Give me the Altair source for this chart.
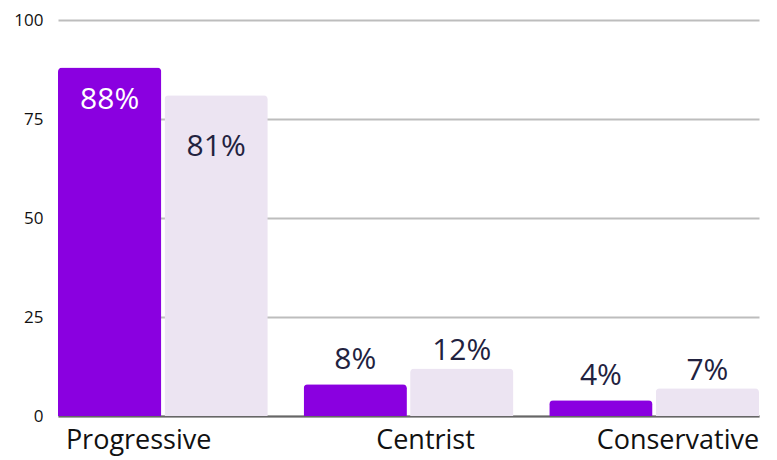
import altair as alt
import pandas as pd

categories = ["Progressive", "Centrist", "Conservative"]
series_names = ["A", "B"]
values_a = [88, 8, 4]
values_b = [81, 12, 7]

rows = []
for c, a, b in zip(categories, values_a, values_b):
    rows.append({"category": c, "series": series_names[0], "value": a})
    rows.append({"category": c, "series": series_names[1], "value": b})
df = pd.DataFrame(rows)
df["label"] = df["value"].astype(str) + "%"

FONT = "Open Sans"
PURPLE = "#8a00e0"
LIGHT = "#ece4f2"
DARK = "#22223f"

x_enc = alt.X(
    "category:N",
    sort=categories,
    scale=alt.Scale(paddingInner=0.146, paddingOuter=0.0),
    axis=alt.Axis(
        title=None,
        labelAngle=0,
        labelFont=FONT,
        labelFontSize=27,
        labelColor="#111111",
        labelPadding=11,
        ticks=False,
        domainColor="#666666",
        domainWidth=2,
        labelAlign={
            "condition": [
                {"test": "datum.value === 'Progressive'", "value": "left"},
                {"test": "datum.value === 'Conservative'", "value": "right"},
            ],
            "value": "center",
        },
        labelOffset={
            "condition": [
                {"test": "datum.value === 'Progressive'", "value": -97},
                {"test": "datum.value === 'Conservative'", "value": 105},
            ],
            "value": 17,
        },
    ),
)
xoff = alt.XOffset("series:N", sort=series_names, scale=alt.Scale(paddingInner=0.03))
y_enc = alt.Y(
    "value:Q",
    scale=alt.Scale(domain=[0, 100]),
    axis=alt.Axis(
        title=None,
        values=[0, 25, 50, 75, 100],
        labelFont=FONT,
        labelFontSize=17,
        labelColor="#111111",
        labelPadding=15,
        ticks=False,
        domain=False,
        gridColor="#bdbdbd",
        gridWidth=2,
    ),
)

base = alt.Chart(df)

bars = base.mark_bar(cornerRadiusTopLeft=4, cornerRadiusTopRight=4).encode(
    x=x_enc,
    xOffset=xoff,
    y=y_enc,
    color=alt.Color(
        "series:N",
        sort=series_names,
        scale=alt.Scale(domain=series_names, range=[PURPLE, LIGHT]),
        legend=None,
    ),
)

def text_layer(series, inside, dy, color):
    cond = "datum.value > 50" if inside else "datum.value <= 50"
    return (
        base.transform_filter(f"datum.series === '{series}' && {cond}")
        .mark_text(font=FONT, fontSize=30, baseline="middle", dy=dy, color=color)
        .encode(
            x=alt.X("category:N", sort=categories),
            xOffset=alt.XOffset("series:N", sort=series_names),
            y=alt.Y("value:Q"),
            text="label:N",
        )
    )

labels = [
    text_layer("A", True, 32, "#ffffff"),
    text_layer("B", True, 52, DARK),
    text_layer("A", False, -24, DARK),
    text_layer("B", False, -17, DARK),
]

chart = (
    alt.layer(bars, *labels)
    .properties(
        width=701,
        height=396,
        padding={"left": 50, "top": 12, "right": 4, "bottom": 40},
        autosize=alt.AutoSizeParams(type="none"),
        background="#ffffff",
    )
    .configure_view(stroke=None)
)

chart.save("out.html", embed_options={"renderer": "svg", "actions": False})
